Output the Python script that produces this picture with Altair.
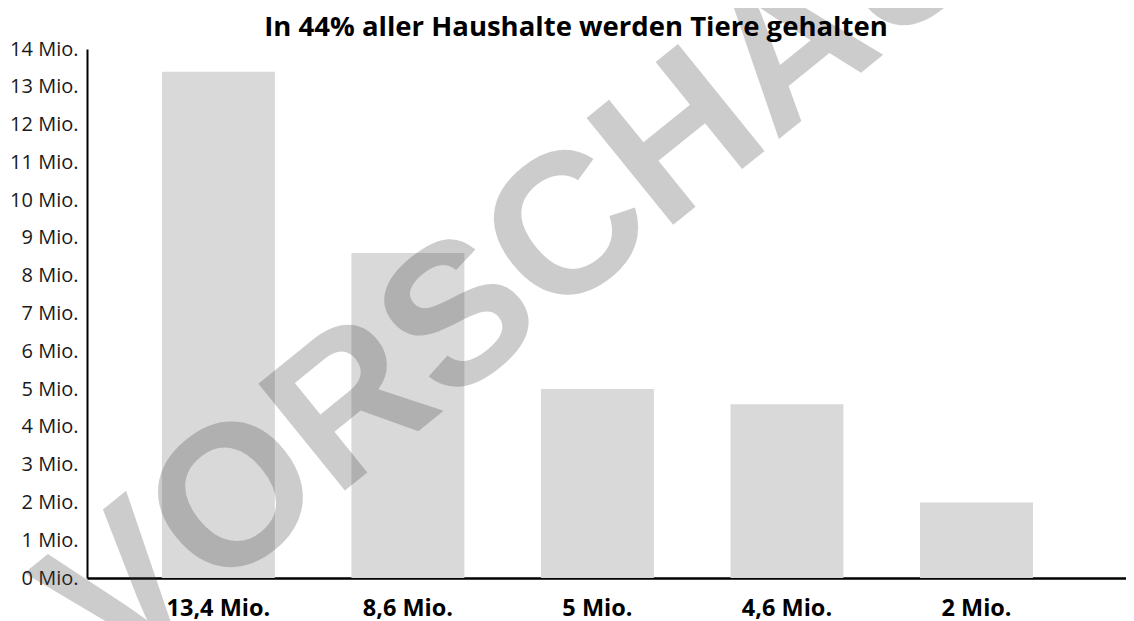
import altair as alt
import pandas as pd

# data
labels = ["13,4 Mio.", "8,6 Mio.", "5 Mio.", "4,6 Mio.", "2 Mio."]
values = [13.4, 8.6, 5.0, 4.6, 2.0]
y_ticks = list(range(0, 15))
title_text = ["In 44% aller Haushalte werden Tiere gehalten"]
watermark_text = ["VORSCHAU"]

df = pd.DataFrame({"label": labels, "value": values})
wm = pd.DataFrame({"t": watermark_text})
tt = pd.DataFrame({"t": title_text})

bars = alt.Chart(df).mark_bar(color="#d9d9d9").encode(
    x=alt.X(
        "label:N", sort=None, title=None,
        scale=alt.Scale(paddingInner=0.404, paddingOuter=0.443, align=0.446),
        axis=alt.Axis(labelAngle=0, labelFont="Open Sans", labelFontWeight="bold",
                      labelFontSize=23.5, labelColor="#000000", ticks=False,
                      domainColor="#000000", domainWidth=2.5, labelPadding=18),
    ),
    y=alt.Y(
        "value:Q", title=None,
        scale=alt.Scale(domain=[0, 14], nice=False),
        axis=alt.Axis(values=y_ticks, labelExpr="datum.value + ' Mio.'", grid=False,
                      ticks=False, domainColor="#000000", domainWidth=2,
                      labelFont="Open Sans", labelFontSize=20, labelColor="#1a1a1a",
                      labelPadding=9),
    ),
)

watermark = alt.Chart(wm).mark_text(
    font="Liberation Sans", fontWeight="bold", fontSize=200, angle=321,
    color="#3d3d3d", opacity=0.26, align="center", baseline="middle",
).encode(x=alt.value(430), y=alt.value(225), text="t:N")

title = alt.Chart(tt).mark_text(
    font="Open Sans", fontSize=27.5, fontWeight="bold", color="#000000",
    align="center", baseline="middle",
).encode(x=alt.value(489), y=alt.value(-21), text="t:N")

chart = alt.layer(bars, watermark, title).properties(
    width=1039, height=529,
    autosize=alt.AutoSizeParams(type="none"),
    padding={"left": 79, "top": 41, "right": 0, "bottom": 48},
).configure_view(stroke=None)

chart.save("out.html", embed_options={"renderer": "svg", "actions": False})
